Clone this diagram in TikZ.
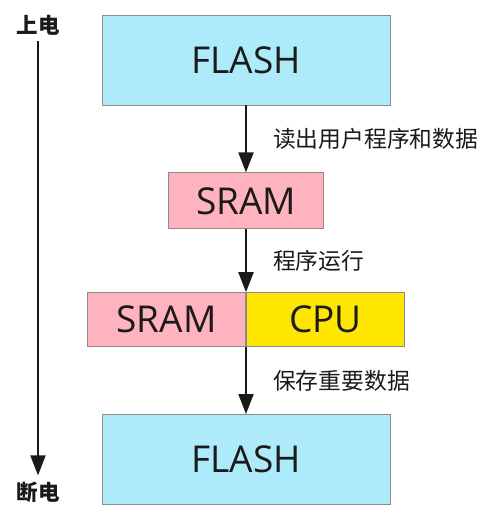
\documentclass[tikz,border=0pt]{standalone}
\usepackage{fontspec}
\setmainfont{Open Sans}
\newfontfamily\cjk{Noto Sans CJK SC}
\usetikzlibrary{arrows.meta, positioning}
\usepackage{xcolor}
\definecolor{flashblue}{HTML}{AEEBFA}
\definecolor{srampink}{HTML}{FFB3BE}
\definecolor{cpuyellow}{HTML}{FFE600}
\definecolor{boxgray}{HTML}{8C8C8C}
\definecolor{inkblack}{HTML}{1A1A1A}

\begin{document}
\begin{tikzpicture}[x=1pt, y=1pt,
  memory/.style={rectangle, draw=boxgray, line width=0.8pt, inner sep=0pt, align=center, font=\fontsize{37}{40}\selectfont, text=inkblack},
  flash/.style={memory, fill=flashblue, minimum width=288pt, minimum height=90pt},
  sram/.style={memory, fill=srampink, minimum height=56pt},
  cpu/.style={memory, fill=cpuyellow, minimum height=54pt},
  lab/.style={inner sep=0pt, font=\cjk\fontsize{22.8}{26}\selectfont, text=inkblack},
  side/.style={inner sep=6pt, font=\cjk\bfseries\fontsize{21.5}{25}\selectfont, text=inkblack},
  arrow/.style={-{Triangle[width=15pt, length=20pt]}, line width=2pt, color=inkblack},
]
  \useasboundingbox (0,0) rectangle (492,-522);

  \node[flash] (flash1) at (246,-60) {FLASH};
  \node[sram, minimum width=155pt, below=67pt of flash1] (sram1) {SRAM};
  \node[sram, minimum width=158pt, minimum height=54pt, below left=63pt and 0pt of sram1.south, anchor=north east] (sram2) {SRAM};
  \node[cpu, minimum width=158pt, right=0pt of sram2] (cpu) {CPU};
  \node[flash, below=67pt of sram2.south east] (flash2) {FLASH};

  \draw[arrow] (flash1) -- node[lab, right=26pt] {读出用户程序和数据} (sram1);
  \draw[arrow] (sram1) -- node[lab, right=26pt] {程序运行} (sram2.north east);
  \draw[arrow] (sram2.south east) -- node[lab, right=26pt] {保存重要数据} (flash2);

  % power on / power off
  \node[side] (on) at (38,-25) {上电};
  \node[side] (off) at (38,-492) {断电};
  \draw[arrow] (on) -- (off);
\end{tikzpicture}
\end{document}
